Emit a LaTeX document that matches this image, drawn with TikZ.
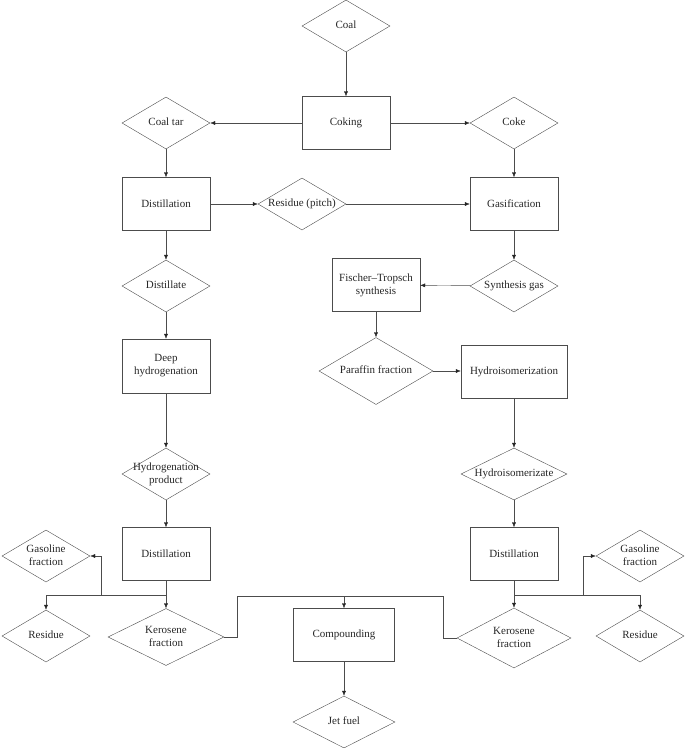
\documentclass[tikz,border=0pt]{standalone}
\usepackage{fontspec}
\setmainfont{Liberation Serif}
\usetikzlibrary{shapes.geometric,arrows.meta}
\newcommand{\dtxt}[1]{\makebox[0pt]{\begin{tabular}{@{}c@{}}#1\end{tabular}}}
\tikzset{
	proc/.style={draw=black!70, rectangle, minimum width=88pt, minimum height=53pt, align=center, inner sep=1pt},
	datum/.style={draw=black!70, diamond, minimum width=88pt, minimum height=52pt, inner sep=0pt},
	flow/.style={draw=black!70, -{Latex[length=5pt,width=4pt,color=black!85]}},
	pipe/.style={draw=black!70}
}
\begin{document}
\begin{tikzpicture}[x=1pt,y=-1pt,font=\fontsize{11}{13}\selectfont,text=black!85]
			\useasboundingbox (0,0) rectangle (685,748);
			% raw materials
			\node [datum] (coal) at (346,26) {\dtxt{Coal}};
			\node [proc] (coking) at (346,123) {Coking};
			\node [datum] (coaltar) at (166,123) {\dtxt{Coal tar}};
			\node [datum] (coke) at (514,123) {\dtxt{Coke}};
			\node [proc] (distA) at (166,204) {Distillation};
			\node [datum] (pitch) at (302,204) {\dtxt{Residue (pitch)}};
			\node [proc] (gasif) at (514,204) {Gasification};
			% left branch
			\node [datum] (distillate) at (166,286) {\dtxt{Distillate}};
			\node [proc, minimum height=54pt] (deephyd) at (166,366) {Deep\\hydrogenation};
			\node [datum] (hydprod) at (166,474) {\dtxt{Hydrogenation\\product}};
			\node [proc] (distB) at (166,554) {Distillation};
			\node [datum] (gasA) at (46,556) {\dtxt{Gasoline\\fraction}};
			\node [datum] (resA) at (46,636) {\dtxt{Residue}};
			\node [datum, minimum width=116pt, minimum height=57pt] (keroA) at (166,637) {\dtxt{Kerosene\\fraction}};
			% right branch
			\node [datum] (syngas) at (514,286) {\dtxt{Synthesis gas}};
			\node [proc] (ft) at (376,285) {Fischer--Tropsch\\synthesis};
			\node [datum, minimum width=114pt, minimum height=67pt] (paraffin) at (376,371) {\dtxt{Paraffin fraction}};
			\node [proc, minimum width=106pt] (hydroiso) at (514,372) {Hydroisomerization};
			\node [datum, minimum width=106pt] (hydiso) at (514,474) {\dtxt{Hydroisomerizate}};
			\node [proc] (distC) at (514,554) {Distillation};
			\node [datum] (gasB) at (640,556) {\dtxt{Gasoline\\fraction}};
			\node [datum] (resB) at (640,636) {\dtxt{Residue}};
			\node [datum, minimum width=114pt, minimum height=60pt] (keroB) at (514,638) {\dtxt{Kerosene\\fraction}};
			% blending
			\node [proc, minimum width=101pt] (comp) at (344,635) {Compounding};
			\node [datum, minimum width=102pt] (jet) at (344,722) {\dtxt{Jet fuel}};
			\coordinate (splitA) at (166,595);
			\coordinate (branchA) at (101,595);
			\coordinate (splitB) at (514,595);
			\coordinate (branchB) at (583,595);
			\coordinate (mixL) at (237,596);
			\coordinate (mixR) at (443,596);
			\coordinate (mix) at (344,596);
			\draw [flow] (coal) -- (coking);
			\draw [flow] (coking) -- (coaltar);
			\draw [flow] (coking) -- (coke);
			\draw [flow] (coaltar) -- (distA);
			\draw [flow] (distA) -- (pitch);
			\draw [flow] (pitch) -- (gasif);
			\draw [flow] (coke) -- (gasif);
			\draw [flow] (gasif) -- (syngas);
			\draw [flow] (syngas) -- (ft);
			\draw [flow] (ft) -- (paraffin);
			\draw [flow] (paraffin) -- (paraffin -| hydroiso.west);
			\draw [flow] (hydroiso) -- (hydiso);
			\draw [flow] (hydiso) -- (distC);
			\draw [flow] (distA) -- (distillate);
			\draw [flow] (distillate) -- (deephyd);
			\draw [flow] (deephyd) -- (hydprod);
			\draw [flow] (hydprod) -- (distB);
			\draw [flow] (distB) -- (keroA);
			\draw [flow] (splitA) -| (resA);
			\draw [flow] (branchA) |- (gasA.east);
			\draw [flow] (distC) -- (keroB);
			\draw [flow] (splitB) -| (resB);
			\draw [flow] (branchB) |- (gasB.west);
			\draw [pipe] (keroA.east) -| (mixL) -- (mixR) |- (keroB.west);
			\draw [flow] (mix) -- (comp);
			\draw [flow] (comp) -- (jet);
		\end{tikzpicture}
\end{document}
